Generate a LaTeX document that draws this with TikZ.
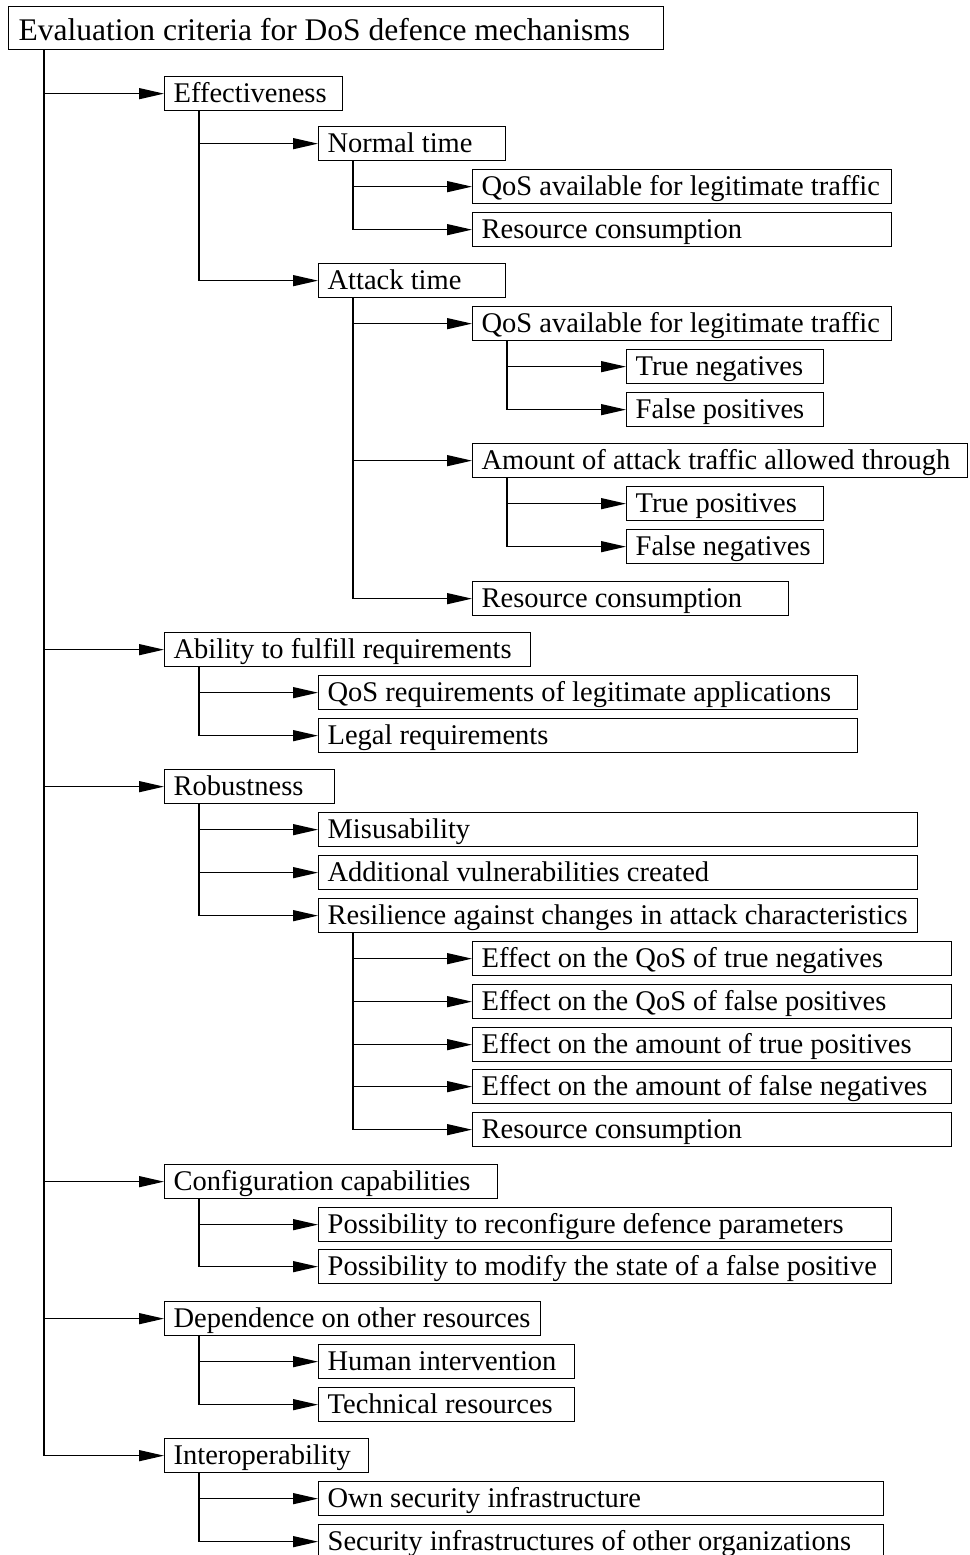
\documentclass[tikz,border=0pt]{standalone}
\usepackage{fontspec}
\setmainfont{Liberation Serif}
\usetikzlibrary{arrows.meta}

\tikzset{
  crit/.style={draw,line width=1.3pt,anchor=north west,inner xsep=9pt,inner ysep=0pt,
    minimum height=34pt,text width=#1pt-19pt,
    execute at begin node={\spaceskip=.25em\relax\hbox to\linewidth\bgroup},
    execute at end node={\hfil\egroup},
    text height=21.5pt,text depth=4.5pt,font=\fontsize{28.5}{30}\selectfont},
  link/.style={line width=1.3pt,-{Triangle[length=25pt,width=11pt]}}
}

\begin{document}
\begin{tikzpicture}[x=1pt,y=-1pt]
\useasboundingbox (0,0) rectangle (969,1555);

\node[crit=654,inner xsep=10pt,minimum height=43pt,text height=27pt,text depth=2pt,
  font=\fontsize{31.5}{33}\selectfont]
  (root) at (8,6) {Evaluation criteria for DoS defence mechanisms};

% Effectiveness branch.
\node[crit=179] (eff)     at (164,76)  {Effectiveness};
\node[crit=188] (norm)    at (318,126) {Normal time};
\node[crit=420] (normqos) at (472,169) {QoS available for legitimate traffic};
\node[crit=420] (normres) at (472,212) {Resource consumption};
\node[crit=188] (att)     at (318,263) {Attack time};
\node[crit=420] (attqos)  at (472,306) {QoS available for legitimate traffic};
\node[crit=198] (tn)      at (626,349) {True negatives};
\node[crit=198] (fp)      at (626,392) {False positives};
\node[crit=496] (attamt)  at (472,443) {Amount of attack traffic allowed through};
\node[crit=198] (tp)      at (626,486) {True positives};
\node[crit=198] (fn)      at (626,529) {False negatives};
\node[crit=317] (attres)  at (472,581) {Resource consumption};

% Requirements branch.
\node[crit=367] (abil)    at (164,632) {Ability to fulfill requirements};
\node[crit=540] (qosreq)  at (318,675) {QoS requirements of legitimate applications};
\node[crit=540] (legal)   at (318,718) {Legal requirements};

% Robustness branch.
\node[crit=171] (rob)     at (164,769) {Robustness};
\node[crit=600] (misuse)  at (318,812) {Misusability};
\node[crit=600] (vuln)    at (318,855) {Additional vulnerabilities created};
\node[crit=600] (resil)   at (318,898) {Resilience against changes in attack characteristics};
\node[crit=480] (eqtn)    at (472,941) {Effect on the QoS of true negatives};
\node[crit=480] (eqfp)    at (472,984) {Effect on the QoS of false positives};
\node[crit=480] (eatp)    at (472,1027) {Effect on the amount of true positives};
\node[crit=480] (eafn)    at (472,1069) {Effect on the amount of false negatives};
\node[crit=480] (resres)  at (472,1112) {Resource consumption};

% Configuration, dependence and interoperability.
\node[crit=334] (conf)    at (164,1164) {Configuration capabilities};
\node[crit=574] (reconf)  at (318,1207) {Possibility to reconfigure defence parameters};
\node[crit=574] (modfp)   at (318,1249) {Possibility to modify the state of a false positive};
\node[crit=377] (dep)     at (164,1301) {Dependence on other resources};
\node[crit=257] (human)   at (318,1344) {Human intervention};
\node[crit=257] (tech)    at (318,1387) {Technical resources};
\node[crit=205] (interop) at (164,1438) {Interoperability};
\node[crit=566] (own)     at (318,1481) {Own security infrastructure};
\node[crit=566] (other)   at (318,1524) {Security infrastructures of other organizations};

% Connectors from each parent to its children.
\foreach \kid in {eff,abil,rob,conf,dep,interop}
  \draw[link] ([xshift=36pt]root.south west) |- (\kid.west);
\foreach \kid in {norm,att}
  \draw[link] ([xshift=35pt]eff.south west) |- (\kid.west);
\foreach \kid in {normqos,normres}
  \draw[link] ([xshift=35pt]norm.south west) |- (\kid.west);
\foreach \kid in {attqos,attamt,attres}
  \draw[link] ([xshift=35pt]att.south west) |- (\kid.west);
\foreach \kid in {tn,fp}
  \draw[link] ([xshift=35pt]attqos.south west) |- (\kid.west);
\foreach \kid in {tp,fn}
  \draw[link] ([xshift=35pt]attamt.south west) |- (\kid.west);
\foreach \kid in {qosreq,legal}
  \draw[link] ([xshift=35pt]abil.south west) |- (\kid.west);
\foreach \kid in {misuse,vuln,resil}
  \draw[link] ([xshift=35pt]rob.south west) |- (\kid.west);
\foreach \kid in {eqtn,eqfp,eatp,eafn,resres}
  \draw[link] ([xshift=35pt]resil.south west) |- (\kid.west);
\foreach \kid in {reconf,modfp}
  \draw[link] ([xshift=35pt]conf.south west) |- (\kid.west);
\foreach \kid in {human,tech}
  \draw[link] ([xshift=35pt]dep.south west) |- (\kid.west);
\foreach \kid in {own,other}
  \draw[link] ([xshift=35pt]interop.south west) |- (\kid.west);
\end{tikzpicture}
\end{document}
